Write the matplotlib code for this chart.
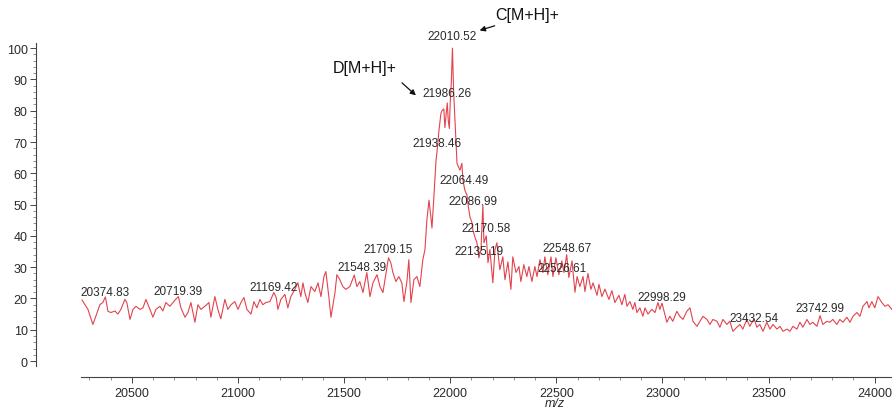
import numpy as np
import matplotlib
matplotlib.use("Agg")
from matplotlib import pyplot as plt
from matplotlib.ticker import FixedLocator

plt.rcParams['font.family'] = ['Liberation Sans', 'DejaVu Sans']

# spectrum (m/z, relative abundance)
mz = [20265, 20293, 20316, 20330, 20349, 20363, 20375, 20387, 20401, 20420,
      20434, 20448, 20467, 20476, 20491, 20505, 20519, 20538, 20552, 20566,
      20585, 20599, 20613, 20632, 20646, 20660, 20679, 20703, 20719, 20731,
      20750, 20764, 20778, 20797, 20811, 20825, 20844, 20863, 20872, 20891,
      20905, 20919, 20938, 20952, 20967, 20985, 21000, 21014, 21028, 21042,
      21061, 21075, 21089, 21103, 21117, 21131, 21150, 21169, 21180, 21188,
      21202, 21221, 21235, 21249, 21268, 21282, 21296, 21306, 21315, 21329,
      21344, 21362, 21377, 21391, 21405, 21414, 21428, 21438, 21457, 21466,
      21480, 21494, 21508, 21527, 21548, 21560, 21574, 21589, 21607, 21622,
      21636, 21655, 21669, 21683, 21709, 21720, 21730, 21744, 21758, 21772,
      21782, 21796, 21805, 21815, 21829, 21843, 21857, 21871, 21881, 21890,
      21900, 21909, 21914, 21923, 21933, 21938, 21947, 21956, 21961, 21970,
      21975, 21986, 21991, 21996, 22000, 22005, 22010.5, 22016, 22022, 22032,
      22036, 22046, 22055, 22060, 22069, 22079, 22083, 22093, 22102, 22107,
      22116, 22126, 22135, 22145, 22154, 22159, 22170, 22178, 22187, 22201,
      22211, 22220, 22234, 22248, 22258, 22272, 22286, 22295, 22310, 22324,
      22333, 22347, 22361, 22371, 22385, 22399, 22409, 22423, 22437, 22446,
      22460, 22475, 22484, 22498, 22512, 22526, 22536, 22549, 22559, 22574,
      22588, 22598, 22611, 22626, 22635, 22649, 22663, 22673, 22692, 22701,
      22715, 22729, 22748, 22762, 22776, 22795, 22809, 22823, 22833, 22847,
      22861, 22870, 22880, 22894, 22908, 22918, 22932, 22950, 22965, 22979,
      22988, 22998, 23021, 23035, 23049, 23068, 23082, 23097, 23115, 23130,
      23144, 23163, 23177, 23191, 23210, 23224, 23238, 23257, 23271, 23285,
      23304, 23318, 23332, 23351, 23365, 23379, 23398, 23412, 23432, 23445,
      23459, 23474, 23492, 23507, 23521, 23540, 23554, 23568, 23587, 23601,
      23615, 23634, 23648, 23662, 23681, 23695, 23709, 23728, 23743, 23756,
      23775, 23789, 23803, 23822, 23836, 23851, 23869, 23884, 23898, 23917,
      23931, 23945, 23964, 23973, 23987, 24001, 24016, 24034, 24049, 24063,
      24082]
intensity = [19.5, 16.5, 11.7, 14.3, 18.0, 18.7, 20.5, 15.9, 15.5, 16.0,
             15.0, 16.5, 19.7, 18.7, 13.3, 16.5, 17.5, 16.5, 17.0, 19.7,
             16.5, 14.0, 16.5, 17.5, 16.0, 18.7, 17.5, 19.5, 20.6, 17.0,
             14.0, 15.5, 18.7, 12.4, 18.0, 16.5, 17.5, 18.7, 14.0, 20.6,
             16.5, 13.5, 19.7, 16.5, 18.0, 19.0, 16.5, 18.7, 20.3, 16.5,
             15.0, 19.0, 17.0, 19.7, 18.0, 18.7, 19.0, 21.9, 20.3, 16.5,
             19.7, 21.3, 17.0, 20.6, 22.9, 25.0, 20.6, 25.0, 21.9, 18.7,
             23.8, 22.2, 25.0, 20.6, 27.0, 28.6, 20.6, 14.0, 21.9, 27.6,
             26.0, 23.8, 22.9, 23.8, 27.5, 23.8, 25.4, 21.9, 28.3, 20.6,
             25.0, 27.6, 23.8, 21.9, 33.0, 31.4, 28.3, 25.4, 27.0, 25.0,
             19.0, 25.4, 32.4, 18.7, 26.0, 27.0, 23.8, 32.4, 35.6, 45.0,
             51.4, 46.0, 42.5, 52.4, 64.0, 67.0, 73.7, 79.0, 80.0, 80.6,
             74.6, 82.5, 76.8, 74.3, 82.5, 88.6, 100.0, 86.3, 77.8, 63.2,
             62.5, 61.0, 63.2, 57.8, 54.6, 53.0, 50.5, 46.0, 44.4, 41.9,
             39.7, 37.8, 33.0, 35.6, 49.8, 37.8, 40.0, 31.4, 35.6, 25.0,
             35.6, 37.8, 29.2, 33.3, 26.0, 31.7, 22.9, 33.3, 28.3, 30.2,
             25.4, 30.8, 27.0, 30.2, 25.4, 30.2, 27.0, 32.4, 28.3, 33.3,
             27.6, 33.3, 27.0, 33.0, 27.6, 32.0, 28.3, 34.0, 26.7, 32.0,
             22.0, 27.0, 23.8, 27.0, 22.2, 28.0, 22.9, 25.0, 21.0, 24.5,
             20.6, 23.0, 19.7, 22.5, 18.7, 21.0, 18.0, 21.3, 17.5, 19.0,
             16.5, 18.7, 15.5, 17.0, 14.3, 17.0, 15.0, 16.5, 15.5, 18.7,
             16.5, 18.5, 12.4, 14.3, 12.7, 15.9, 14.3, 13.3, 15.9, 17.0,
             12.7, 11.1, 12.7, 14.3, 13.3, 11.7, 13.3, 12.7, 10.8, 13.3,
             11.7, 12.7, 9.5, 10.8, 11.7, 10.2, 13.3, 11.1, 13.5, 10.8,
             11.7, 9.5, 12.4, 10.2, 11.7, 10.2, 11.1, 9.5, 10.2, 9.5,
             11.1, 10.2, 12.4, 10.8, 13.3, 11.7, 12.4, 11.1, 14.5, 11.7,
             12.7, 12.4, 13.3, 11.7, 13.3, 12.4, 14.0, 12.4, 14.3, 15.5,
             14.3, 17.5, 19.0, 17.0, 19.0, 17.0, 20.6, 18.7, 17.5, 18.0,
             16.5]

peak_mz = [20374.83, 20719.39, 21169.42, 21548.39, 21709.15, 21938.46,
           21986.26, 22010.52, 22064.49, 22086.99, 22135.19, 22170.58,
           22526.61, 22548.67, 22998.29, 23432.54, 23742.99]
label_y = [22.0, 22.4, 23.6, 30.0, 35.8, 69.6, 85.6, 103.8, 57.8, 51.1,
           35.1, 42.5, 29.7, 36.1, 20.4, 13.7, 16.9]
label_dx = {21548.39: 36, 22086.99: 20}

x_major = [20500, 21000, 21500, 22000, 22500, 23000, 23500, 24000]
y_major = list(range(0, 101, 10))

fig = plt.figure(figsize=(8.92, 4.10), dpi=100)
ax = fig.add_axes([36 / 892, 32 / 410, 856 / 892, 378 / 410])

ax.plot(mz, intensity, color='#e2434d', lw=0.8)

txt = '#2a2a2a'
for m, ly in zip(peak_mz, label_y):
    ax.text(m + label_dx.get(m, 0), ly, f'{m:.2f}', ha='center', va='center',
            fontsize=8.5, color=txt)

# species annotations
ax.text(22361, 110.9, 'C[M+H]+', ha='center', va='center', fontsize=11.5, color='#111')
ax.annotate('', xy=(22126, 105.4), xytext=(22222, 107.4),
            arrowprops=dict(arrowstyle='-|>', color='#111', lw=0.9, mutation_scale=8))
ax.text(21598, 93.9, 'D[M+H]+', ha='center', va='center', fontsize=11.5, color='#111')
ax.annotate('', xy=(21848, 84.3), xytext=(21763, 89.5),
            arrowprops=dict(arrowstyle='-|>', color='#111', lw=0.9, mutation_scale=8))

ax.set_xlim(20048, 24082)
ax.set_ylim(-5.1, 115.7)

for s in ['top', 'right']:
    ax.spines[s].set_visible(False)
ax.spines['left'].set_bounds(-1.5, 101.5)
ax.spines['bottom'].set_bounds(20262, 24082)
for s in ['left', 'bottom']:
    ax.spines[s].set_color('#444')
    ax.spines[s].set_linewidth(0.8)

ax.set_xticks(x_major)
ax.xaxis.set_minor_locator(FixedLocator([v for v in range(20300, 24100, 100) if v % 500]))
ax.set_yticks(y_major)
ax.yaxis.set_minor_locator(FixedLocator([v for v in range(0, 101, 2) if v % 10]))
ax.tick_params(axis='both', which='major', labelsize=9, labelcolor=txt,
               color='#444', width=0.7, length=4)
ax.tick_params(axis='both', which='minor', color='#666', width=0.5, length=2)
ax.tick_params(axis='x', pad=3)
ax.tick_params(axis='y', pad=2)

fig.text(555 / 892, 1 - 404 / 410, 'm/z', ha='center', va='center',
         fontsize=9, style='italic', color=txt)

fig.savefig('out.png', dpi=100)
